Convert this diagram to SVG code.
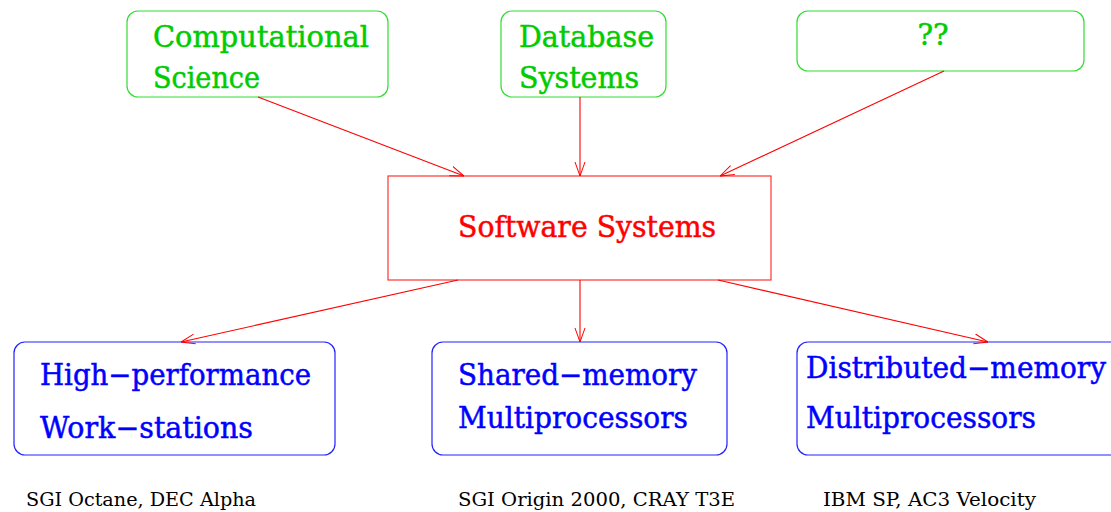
<svg xmlns="http://www.w3.org/2000/svg" width="1111" height="512" viewBox="0 0 1111 512">
<defs>
<marker id="arr" viewBox="0 0 14 12" refX="14" refY="6" markerWidth="14" markerHeight="12" markerUnits="userSpaceOnUse" orient="auto">
<path d="M0,1 L14,6 L0,11" fill="none" stroke="#ff0000" stroke-width="1"/>
</marker>
<style>
.t{font-family:"DejaVu Serif","Liberation Serif",serif;}
.g{fill:#00cc00;stroke:#00cc00;stroke-width:0.5;font-size:29px;}
.gb{fill:none;stroke:#33dd33;stroke-width:1.2;}
.bb{fill:none;stroke:#2222ff;stroke-width:1.2;}
.b{fill:#0000ff;stroke:#0000ff;stroke-width:0.5;font-size:29px;}
.r{fill:#ff0000;stroke:#ff0000;stroke-width:0.5;font-size:29px;}
.k{fill:#000;font-size:18px;}
.c{stroke:#ff0000;stroke-width:1.1;fill:none;marker-end:url(#arr);}
</style>
</defs>
<rect width="1111" height="512" fill="#fff"/>
<g id="comp">
<rect class="gb" x="127" y="11" width="261" height="86" rx="11"/>
<text class="t g" x="153" y="47" textLength="216" lengthAdjust="spacingAndGlyphs">Computational</text>
<text class="t g" x="153" y="88" textLength="107" lengthAdjust="spacingAndGlyphs">Science</text>
</g>
<g id="db">
<rect class="gb" x="501" y="11" width="165" height="86" rx="11"/>
<text class="t g" x="519" y="47" textLength="135" lengthAdjust="spacingAndGlyphs">Database</text>
<text class="t g" x="519" y="88" textLength="120" lengthAdjust="spacingAndGlyphs">Systems</text>
</g>
<g id="qq">
<rect class="gb" x="797" y="11" width="287" height="60" rx="11"/>
<text class="t g" x="933" y="45" text-anchor="middle">??</text>
</g>
<g id="sw">
<rect x="388" y="176" width="383" height="104" fill="none" stroke="#ff3333" stroke-width="1.2"/>
<text class="t r" x="458" y="237" textLength="258" lengthAdjust="spacingAndGlyphs">Software Systems</text>
</g>
<g id="hp">
<rect class="bb" x="14" y="342" width="321" height="113" rx="11"/>
<text class="t b" x="40" y="385" textLength="271" lengthAdjust="spacingAndGlyphs">High−performance</text>
<text class="t b" x="40" y="438" textLength="213" lengthAdjust="spacingAndGlyphs">Work−stations</text>
</g>
<g id="sm">
<rect class="bb" x="432" y="342" width="295" height="113" rx="11"/>
<text class="t b" x="458" y="385" textLength="239" lengthAdjust="spacingAndGlyphs">Shared−memory</text>
<text class="t b" x="458" y="428" textLength="230" lengthAdjust="spacingAndGlyphs">Multiprocessors</text>
</g>
<g id="dm">
<rect class="bb" x="797" y="342" width="330" height="113" rx="11"/>
<text class="t b" x="806" y="378" textLength="300" lengthAdjust="spacingAndGlyphs">Distributed−memory</text>
<text class="t b" x="806" y="428" textLength="230" lengthAdjust="spacingAndGlyphs">Multiprocessors</text>
</g>
<g id="labels">
<text class="t k" x="26" y="506" textLength="230" lengthAdjust="spacingAndGlyphs">SGI Octane, DEC Alpha</text>
<text class="t k" x="458" y="506" textLength="277" lengthAdjust="spacingAndGlyphs">SGI Origin 2000, CRAY T3E</text>
<text class="t k" x="823" y="506" textLength="213" lengthAdjust="spacingAndGlyphs">IBM SP, AC3 Velocity</text>
</g>
<g id="connectors">
<line class="c" x1="258" y1="97" x2="464" y2="176"/>
<line class="c" x1="580" y1="97" x2="580" y2="176"/>
<line class="c" x1="944" y1="71" x2="720" y2="176"/>
<line class="c" x1="458" y1="280" x2="181" y2="342"/>
<line class="c" x1="580" y1="280" x2="580" y2="342"/>
<line class="c" x1="718" y1="280" x2="988" y2="342"/>
</g>
</svg>
